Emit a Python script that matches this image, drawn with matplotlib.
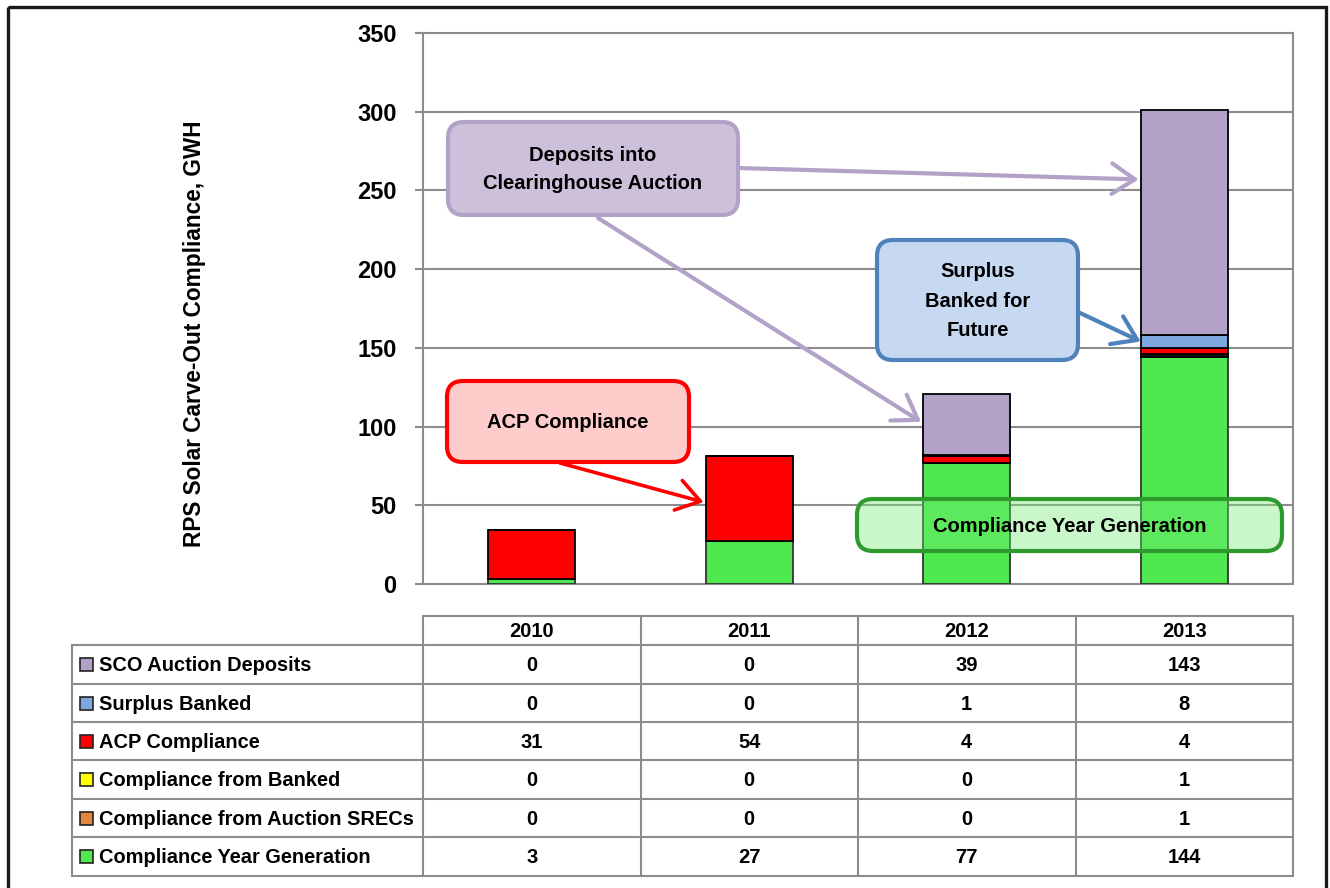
import numpy as np
import matplotlib
matplotlib.use("Agg")
import matplotlib.pyplot as plt
from matplotlib.patches import FancyBboxPatch, Rectangle

plt.rcParams['font.family'] = ['Liberation Sans', 'DejaVu Sans']
plt.rcParams['font.weight'] = 'bold'

years = ['2010', '2011', '2012', '2013']
# stacking order, bottom to top
series_names = ['Compliance Year Generation', 'Compliance from Auction SRECs',
                'Compliance from Banked', 'ACP Compliance', 'Surplus Banked',
                'SCO Auction Deposits']
generation = [3, 27, 77, 144]
auction_srecs = [0, 0, 0, 1]
from_banked = [0, 0, 0, 1]
acp = [31, 54, 4, 4]
surplus = [0, 0, 1, 8]
deposits = [0, 0, 39, 143]
series_vals = [generation, auction_srecs, from_banked, acp, surplus, deposits]
colors = ['#4FE94F', '#E3873F', '#FFFF00', '#FF0000', '#7DA7DE', '#B3A2C7']
edges = ['#333333', 'black', 'black', 'black', 'black', 'black']
yticks = [0, 50, 100, 150, 200, 250, 300, 350]

W, H = 1330, 888
fig = plt.figure(figsize=(W / 100, H / 100), dpi=100)
grid_c = '#8C8C8C'

# main plot area in pixel coordinates: x 423..1293, y 33..584
ax = fig.add_axes([423 / W, (H - 584) / H, (1293 - 423) / W, (584 - 33) / H])
x = np.arange(len(years))
bottom = np.zeros(len(years))
for vals, c, ec in zip(series_vals, colors, edges):
    ax.bar(x, vals, 0.4, bottom=bottom, color=c, edgecolor=ec, linewidth=1.3, zorder=3)
    bottom += np.array(vals)
ax.set_xlim(-0.5, 3.5)
ax.set_ylim(0, 350)
ax.set_yticks(yticks)
ax.set_xticks([])
ax.yaxis.grid(True, color=grid_c, lw=1.5)
ax.set_axisbelow(True)
for s in ax.spines.values():
    s.set_color(grid_c)
    s.set_linewidth(1.5)
ax.tick_params(axis='y', length=6, width=1.5, color=grid_c, pad=13, labelsize=17)

fig.text(195 / W, 1 - 334 / H, 'RPS Solar Carve-Out Compliance, GWH', rotation=90,
         ha='center', va='center', fontsize=16.3, fontweight='bold')

# overlay in pixel coordinates for table, callouts and frame
ov = fig.add_axes([0, 0, 1, 1], zorder=5)
ov.set_xlim(0, W)
ov.set_ylim(H, 0)
ov.axis('off')
ov.patch.set_visible(False)

ov.add_patch(Rectangle((8, 7), 1318, 900, fill=False, ec='#1a1a1a', lw=2.4, clip_on=False))

# ---- data table ----
tab_left, lab_right, tab_right = 72, 423, 1293
head_top = 616
row_edges = [645, 684, 722, 760, 799, 837, 876]
col_w = (tab_right - lab_right) / len(years)
tc = '#8C8C8C'
ov.plot([lab_right, tab_right], [head_top, head_top], color=tc, lw=1.5)
for ye in row_edges:
    ov.plot([tab_left, tab_right], [ye, ye], color=tc, lw=1.5)
ov.plot([tab_left, tab_left], [row_edges[0], row_edges[-1]], color=tc, lw=1.5)
for i in range(len(years) + 1):
    xx = lab_right + i * col_w
    ov.plot([xx, xx], [head_top, row_edges[-1]], color=tc, lw=1.5)
for i, yr in enumerate(years):
    ov.text(lab_right + (i + 0.5) * col_w, (head_top + row_edges[0]) / 2 + 1, yr,
            ha='center', va='center', fontsize=14.5)
table_order = list(range(len(series_names)))[::-1]
for r, si in enumerate(table_order):
    yc = (row_edges[r] + row_edges[r + 1]) / 2
    ov.add_patch(Rectangle((80, yc - 6.5), 13, 13, fc=colors[si], ec='#222222', lw=1.2))
    ov.text(99, yc + 1, series_names[si], ha='left', va='center', fontsize=14.4)
    for i in range(len(years)):
        ov.text(lab_right + (i + 0.5) * col_w, yc + 1, str(series_vals[si][i]),
                ha='center', va='center', fontsize=14.5)

# ---- callouts ----
def callout(x0, y0, x1, y1, text, fc, ec, alpha=1.0, ls=1.35):
    face = matplotlib.colors.to_rgba(fc, alpha)
    ov.add_patch(FancyBboxPatch((x0, y0), x1 - x0, y1 - y0,
                                boxstyle='round,pad=0,rounding_size=16',
                                fc=face, ec=ec, lw=3.0, zorder=4))
    ov.text((x0 + x1) / 2, (y0 + y1) / 2 + 1, text, ha='center', va='center',
            fontsize=14.5, linespacing=ls, zorder=5)

def arrow(start, target, color, lw):
    ov.annotate('', xy=target, xycoords=ax.transData, xytext=start, textcoords='data',
                arrowprops=dict(arrowstyle='->,head_length=0.75,head_width=0.5',
                                color=color, lw=lw, mutation_scale=22,
                                shrinkA=0, shrinkB=0), zorder=3)

arrow((738, 168), (2.79, 257), '#B3A2C7', 3)
arrow((598, 218), (1.79, 103), '#B3A2C7', 3)
callout(448, 122, 738, 215, 'Deposits into\nClearinghouse Auction', '#CCC0DA', '#B3A2C7', ls=1.57)

arrow((1078, 312), (2.8, 154), '#4F81BD', 3)
callout(877, 240, 1078, 360, 'Surplus\nBanked for\nFuture', '#C6D9F1', '#4F81BD', ls=1.68)

arrow((560, 463), (0.79, 52), '#FF0000', 2.6)
callout(447, 381, 689, 462, 'ACP Compliance', '#FFCCCC', '#FF0000')

callout(857, 499, 1282, 551, 'Compliance Year Generation', '#75EB75', '#2E9A2E', alpha=0.39)

fig.savefig('out.png', dpi=100)
